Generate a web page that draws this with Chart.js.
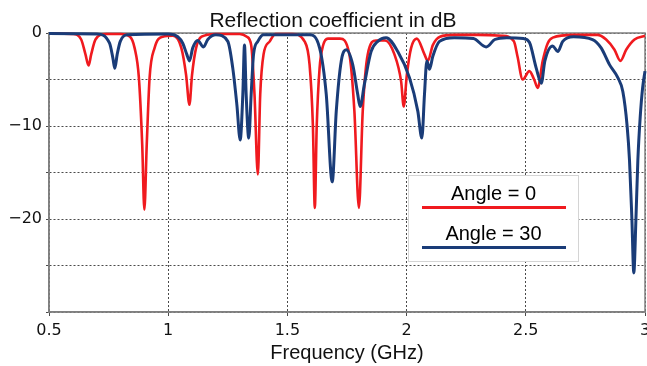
<!DOCTYPE html>
<html>
<head>
<meta charset="utf-8">
<script src="https://cdn.jsdelivr.net/npm/chart.js@4"></script>
<style>
  html, body { margin: 0; padding: 0; background: #fff; overflow: hidden; }
  #wrap { position: relative; width: 647px; height: 366px; }
</style>
</head>
<body>
<div id="wrap"><canvas id="c"></canvas></div>
<script>
// Reflection coefficient (dB) versus frequency (GHz) for two incidence angles
const freqAngle0 = [
  0.50, 0.60, 0.635, 0.653, 0.666, 0.677, 0.695, 0.74, 0.80, 0.84, 0.859, 0.877, 0.891, 0.90,
  0.91, 0.922, 0.943, 0.977, 1.02, 1.055, 1.075, 1.089, 1.10, 1.117, 1.14, 1.20, 1.30, 1.33,
  1.348, 1.362, 1.376, 1.386, 1.40, 1.426, 1.45, 1.52, 1.572, 1.593, 1.607, 1.615, 1.623,
  1.635, 1.649, 1.67, 1.72, 1.76, 1.781, 1.80, 1.816, 1.837, 1.872, 1.91, 1.949, 1.977,
  1.988, 2.001, 2.019, 2.043, 2.075, 2.089, 2.11, 2.14, 2.20, 2.30, 2.40, 2.45, 2.465,
  2.487, 2.515, 2.535, 2.55, 2.571, 2.592, 2.613, 2.70, 2.80, 2.837, 2.872, 2.897, 2.921,
  2.956, 3.00
];
const s11Angle0 = [
  -0.05, -0.1, -0.7, -2.3, -3.5, -2.3, -0.7, -0.1, -0.1, -0.4, -1.6, -4.8, -12.0, -19.0,
  -12.0, -4.8, -1.6, -0.4, -0.3, -1.6, -4.5, -7.7, -4.5, -1.6, -0.4, -0.1, -0.1, -0.4,
  -1.3, -6.6, -15.2, -6.6, -2.3, -0.9, -0.1, -0.1, -0.9, -3.4, -10.0, -18.8, -10.0,
  -3.8, -1.4, -0.6, -0.6, -2.3, -8.4, -18.8, -8.4, -2.3, -0.8, -0.8, -2.3, -5.2,
  -7.9, -4.5, -1.6, -0.6, -2.3, -3.0, -1.3, -0.4, -0.2, -0.2, -0.3, -0.9, -2.5,
  -5.0, -4.1, -5.0, -5.9, -3.0, -1.1, -0.5, -0.2, -0.2, -0.7, -1.8, -3.0, -1.8,
  -0.7, -0.3
];

const freqAngle30 = [
  0.50, 0.70, 0.754, 0.768, 0.776, 0.786, 0.799, 0.83, 1.00, 1.04, 1.061, 1.078, 1.089,
  1.103, 1.124, 1.148, 1.166, 1.20, 1.25, 1.271, 1.288, 1.302, 1.313, 1.32, 1.327, 1.338,
  1.348, 1.358, 1.376, 1.40, 1.55, 1.593, 1.635, 1.663, 1.688, 1.705, 1.726, 1.747, 1.774,
  1.795, 1.805, 1.823, 1.851, 1.879, 1.914, 1.963, 2.012, 2.047, 2.064, 2.075, 2.085,
  2.096, 2.11, 2.138, 2.20, 2.28, 2.334, 2.37, 2.42, 2.49, 2.515, 2.544, 2.565, 2.58,
  2.613, 2.634, 2.655, 2.70, 2.78, 2.816, 2.851, 2.886, 2.907, 2.925, 2.935, 2.945,
  2.953, 2.962, 2.97, 2.98, 2.99, 3.00
];
const s11Angle30 = [
  -0.05, -0.1, -1.1, -2.7, -3.8, -2.3, -0.9, -0.2, -0.1, -0.4, -1.1, -2.3, -3.0,
  -1.6, -0.8, -1.5, -0.7, -0.2, -0.9, -3.8, -7.7, -11.5, -6.6, -1.3, -6.6, -11.3,
  -6.6, -2.3, -0.9, -0.2, -0.2, -0.2, -1.6, -6.6, -16.0, -8.4, -3.0, -1.8, -3.4,
  -6.6, -7.9, -5.5, -2.0, -0.9, -0.5, -2.0, -4.8, -8.4, -11.3, -6.6, -3.0,
  -3.9, -2.5, -0.9, -0.5, -0.6, -1.5, -0.7, -0.5, -0.6, -1.0, -3.8, -5.4, -3.0,
  -1.4, -2.0, -0.9, -0.4, -0.7, -1.6, -3.4, -4.8, -6.3, -10.0, -13.7, -20.0,
  -25.8, -20.0, -13.7, -9.0, -5.9, -4.1
];

const chartTitle = 'Reflection coefficient in dB';
const seriesNames = ['Angle = 0', 'Angle = 30'];
const xTickValues = [0.5, 1, 1.5, 2, 2.5, 3];
const yTickValues = [0, -5, -10, -15, -20, -25, -30];
const yLabelledTicks = [0, -10, -20];

function toPoints(xs, ys) {
  return xs.map((x, i) => ({ x: x, y: ys[i] }));
}

// heading above the plot
const headline = {
  id: 'headline',
  afterDraw(chart) {
    const { ctx } = chart;
    ctx.save();
    ctx.font = '21px "Liberation Sans", Arial, sans-serif';
    ctx.fillStyle = '#111111';
    ctx.textAlign = 'center';
    ctx.textBaseline = 'alphabetic';
    ctx.fillText(chartTitle, 333, 27);
    ctx.restore();
  }
};

// solid frame around the plotting area
const plotFrame = {
  id: 'plotFrame',
  beforeDatasetsDraw(chart) {
    const { ctx, chartArea: a } = chart;
    ctx.save();
    ctx.strokeStyle = '#808080';
    ctx.lineWidth = 1.5;
    ctx.strokeRect(a.left, a.top, a.right - a.left, a.bottom - a.top);
    ctx.restore();
  }
};

// boxed legend: label text above a sample of the line
const boxLegend = {
  id: 'boxLegend',
  afterDatasetsDraw(chart) {
    const { ctx } = chart;
    const x0 = 408, y0 = 175, w = 171, h = 87;
    ctx.save();
    ctx.fillStyle = '#ffffff';
    ctx.fillRect(x0, y0, w, h);
    ctx.strokeStyle = '#d4d4d4';
    ctx.lineWidth = 1;
    ctx.strokeRect(x0 + 0.5, y0 + 0.5, w - 1, h - 1);
    ctx.font = '20px "Liberation Sans", Arial, sans-serif';
    ctx.textAlign = 'center';
    ctx.textBaseline = 'alphabetic';
    chart.data.datasets.forEach((ds, i) => {
      const ty = y0 + 25 + i * 40;
      ctx.fillStyle = '#000000';
      ctx.fillText(ds.label, x0 + w / 2, ty);
      ctx.strokeStyle = ds.borderColor;
      ctx.lineWidth = 3;
      ctx.beginPath();
      ctx.moveTo(x0 + 14, ty + 7.5);
      ctx.lineTo(x0 + 158, ty + 7.5);
      ctx.stroke();
    });
    ctx.restore();
  }
};

new Chart(document.getElementById('c'), {
  type: 'line',
  data: {
    datasets: [
      {
        label: seriesNames[0],
        data: toPoints(freqAngle0, s11Angle0),
        borderColor: '#f01a1f',
        borderWidth: 2.6,
        pointRadius: 0,
        cubicInterpolationMode: 'monotone',
        clip: false,
        order: 1
      },
      {
        label: seriesNames[1],
        data: toPoints(freqAngle30, s11Angle30),
        borderColor: '#1a3c78',
        borderWidth: 3,
        pointRadius: 0,
        cubicInterpolationMode: 'monotone',
        clip: false,
        order: 0
      }
    ]
  },
  options: {
    responsive: true,
    maintainAspectRatio: false,
    animation: false,
    devicePixelRatio: 1,
    layout: { padding: { left: 0, right: 2, top: 33, bottom: 0 } },
    plugins: {
      legend: { display: false },
      tooltip: { enabled: false },
      title: { display: false }
    },
    scales: {
      x: {
        type: 'linear',
        min: 0.5,
        max: 3,
        afterBuildTicks(scale) {
          scale.ticks = xTickValues.map(v => ({ value: v }));
        },
        afterFit(scale) {
          scale.height = 54;
          scale.paddingLeft = 0;
          scale.paddingRight = 0;
        },
        ticks: {
          color: '#111111',
          font: { family: '"DejaVu Sans", Verdana, sans-serif', size: 16 },
          padding: 5,
          maxRotation: 0,
          autoSkip: false,
          callback: v => String(v)
        },
        grid: { color: '#4a4a4a', lineWidth: 1, tickLength: 4, drawTicks: true },
        border: { display: true, color: '#808080', width: 1.5, dash: [2, 2] },
        title: {
          display: true,
          text: 'Frequency (GHz)',
          color: '#111111',
          font: { family: '"Liberation Sans", Arial, sans-serif', size: 20, weight: 'normal' },
          padding: { top: 0, bottom: 1 }
        }
      },
      y: {
        type: 'linear',
        min: -30,
        max: 0,
        afterBuildTicks(scale) {
          scale.ticks = yTickValues.map(v => ({ value: v }));
        },
        afterFit(scale) {
          scale.width = 49;
          scale.paddingTop = 0;
          scale.paddingBottom = 0;
        },
        ticks: {
          color: '#111111',
          font: { family: '"DejaVu Sans", Verdana, sans-serif', size: 16 },
          padding: 4,
          autoSkip: false,
          callback: v => (yLabelledTicks.includes(v) ? (v < 0 ? '\u2212' + Math.abs(v) : String(v)) : '')
        },
        grid: { color: '#4a4a4a', lineWidth: 1, tickLength: 3, drawTicks: true },
        border: { display: true, color: '#808080', width: 1.5, dash: [2, 2] }
      }
    }
  },
  plugins: [headline, plotFrame, boxLegend]
});
</script>
</body>
</html>
